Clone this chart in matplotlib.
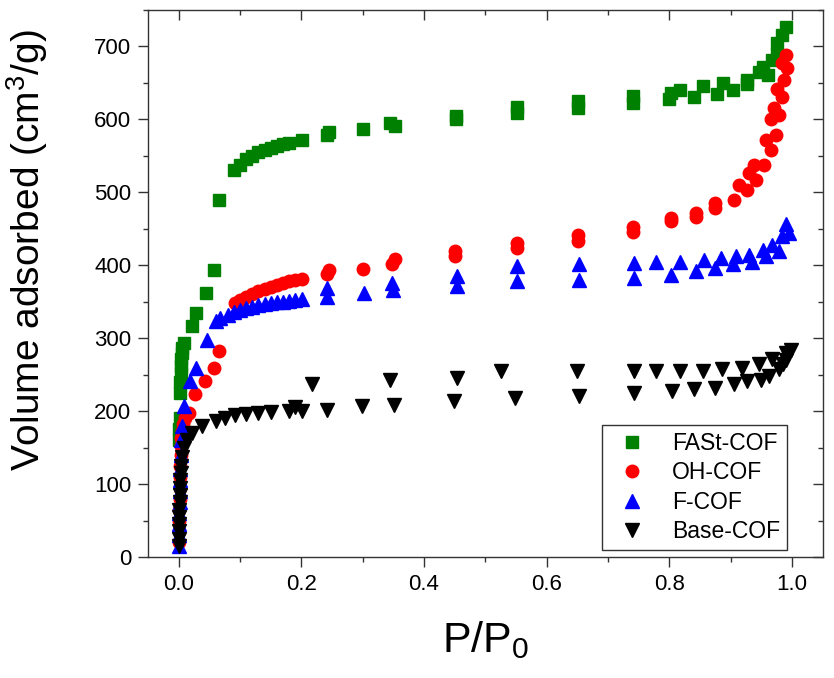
import matplotlib
matplotlib.use("Agg")
import matplotlib.pyplot as plt
from matplotlib.ticker import MultipleLocator

plt.rcParams['font.family'] = ['Liberation Sans', 'DejaVu Sans']
plt.rcParams['mathtext.fontset'] = 'custom'
plt.rcParams['mathtext.rm'] = 'Liberation Sans'

# FASt-COF (green squares)
fast_p = [0.0005, 0.001, 0.0015, 0.002, 0.0025, 0.003, 0.0035, 0.004, 0.005, 0.006, 0.008,
          0.021, 0.029, 0.045, 0.057, 0.066, 0.09, 0.10, 0.11, 0.12, 0.13, 0.14, 0.15, 0.16,
          0.17, 0.18, 0.201, 0.242, 0.245, 0.301, 0.345, 0.352, 0.452, 0.452, 0.552, 0.552,
          0.651, 0.651, 0.74, 0.74, 0.80, 0.802, 0.818, 0.84, 0.854, 0.878, 0.887, 0.903,
          0.927, 0.927, 0.946, 0.952, 0.96, 0.968, 0.975, 0.976, 0.984, 0.99]
fast_v = [160, 175, 190, 225, 240, 252, 262, 272, 280, 287, 293,
          317, 335, 362, 393, 490, 530, 537, 545, 550, 555, 558, 561, 564,
          566, 568, 572, 578, 583, 587, 595, 591, 600, 604, 608, 617,
          615, 625, 622, 632, 628, 636, 640, 630, 645, 635, 650, 640,
          654, 648, 665, 672, 660, 681, 690, 704, 715, 727]

# OH-COF (red circles)
oh_p = [0.0, 0.0003, 0.0006, 0.001, 0.0013, 0.0016, 0.002, 0.0025, 0.003, 0.0035, 0.004,
        0.005, 0.007, 0.01, 0.016, 0.027, 0.043, 0.058, 0.065, 0.092, 0.10, 0.11, 0.12,
        0.13, 0.14, 0.15, 0.16, 0.17, 0.18, 0.19, 0.201, 0.242, 0.245, 0.30, 0.348, 0.352,
        0.451, 0.451, 0.552, 0.552, 0.651, 0.651, 0.741, 0.741, 0.802, 0.802, 0.843, 0.843,
        0.875, 0.875, 0.905, 0.914, 0.927, 0.93, 0.941, 0.938, 0.954, 0.957, 0.965, 0.973,
        0.965, 0.979, 0.971, 0.976, 0.984, 0.987, 0.984, 0.99, 0.992]
oh_v = [20, 35, 50, 65, 80, 95, 110, 125, 140, 152, 163,
        172, 182, 190, 198, 223, 241, 259, 282, 348, 352, 357, 361,
        364, 367, 370, 373, 375, 378, 380, 381, 388, 394, 395, 401, 408,
        413, 420, 423, 431, 433, 441, 445, 452, 460, 465, 466, 471,
        478, 485, 490, 510, 503, 526, 517, 537, 537, 571, 558, 578,
        601, 606, 615, 642, 631, 654, 677, 688, 670]

# F-COF (blue triangles)
f_p = [0.0, 0.0003, 0.0006, 0.001, 0.0013, 0.0016, 0.002, 0.0025, 0.003, 0.004, 0.005, 0.008,
       0.019, 0.028, 0.046, 0.06, 0.068, 0.08, 0.09, 0.10, 0.11, 0.12, 0.13, 0.14, 0.15,
       0.16, 0.17, 0.18, 0.19, 0.201, 0.242, 0.242, 0.302, 0.348, 0.35, 0.454, 0.454,
       0.552, 0.552, 0.653, 0.653, 0.742, 0.742, 0.778, 0.802, 0.818, 0.843, 0.856, 0.875,
       0.884, 0.903, 0.908, 0.93, 0.935, 0.952, 0.957, 0.968, 0.979, 0.984, 0.99, 0.995]
f_v = [15, 30, 45, 60, 75, 90, 105, 120, 140, 160, 180, 207,
       241, 259, 298, 323, 328, 332, 336, 339, 341, 343, 345, 347, 348,
       349, 350, 351, 352, 353, 357, 369, 362, 376, 366, 371, 385,
       378, 399, 380, 401, 382, 403, 405, 387, 405, 392, 407, 396,
       410, 401, 412, 414, 405, 421, 412, 428, 419, 440, 457, 444]

# Base-COF (black down triangles)
base_p = [0.0, 0.0002, 0.0004, 0.0006, 0.0008, 0.001, 0.0013, 0.0016, 0.002, 0.0025, 0.003,
          0.004, 0.005, 0.008, 0.013, 0.022, 0.038, 0.06, 0.075, 0.092, 0.11, 0.13, 0.15,
          0.18, 0.19, 0.201, 0.217, 0.242, 0.299, 0.345, 0.351, 0.449, 0.454, 0.525, 0.549,
          0.65, 0.653, 0.742, 0.742, 0.778, 0.805, 0.818, 0.84, 0.854, 0.875, 0.886, 0.905,
          0.919, 0.927, 0.946, 0.949, 0.962, 0.968, 0.979, 0.985, 0.99, 0.99, 0.998]
base_v = [15, 25, 35, 45, 55, 65, 75, 85, 95, 105, 115,
          125, 137, 150, 160, 170, 180, 187, 190, 194, 196, 198, 199,
          200, 205, 200, 237, 202, 207, 243, 209, 214, 246, 255, 218,
          255, 221, 225, 255, 255, 228, 255, 230, 255, 232, 257, 237,
          259, 241, 264, 243, 248, 271, 257, 265, 270, 280, 284]

fig = plt.figure(figsize=(8.34, 6.78), dpi=100)
ax = fig.add_axes([0.1775, 0.1785, 0.809, 0.807])

ax.plot(fast_p, fast_v, 's', ls='none', color='#008000', ms=8, label='FASt-COF')
ax.plot(oh_p, oh_v, 'o', ls='none', color='#ff0000', ms=9, label='OH-COF')
ax.plot(f_p, f_v, '^', ls='none', color='#0000ff', ms=9.5, label='F-COF')
ax.plot(base_p, base_v, 'v', ls='none', color='black', ms=9.5, label='Base-COF')

ax.set_xlim(-0.05, 1.05)
ax.set_ylim(0, 750)
ax.xaxis.set_major_locator(MultipleLocator(0.2))
ax.xaxis.set_minor_locator(MultipleLocator(0.1))
ax.yaxis.set_major_locator(MultipleLocator(100))
ax.yaxis.set_minor_locator(MultipleLocator(50))

for s in ax.spines.values():
    s.set_linewidth(1.0)
    s.set_color('#333333')

ax.tick_params(which='both', direction='out', labelsize=16, color='#333333')
ax.tick_params(which='major', length=7, width=1.0, pad=5)
ax.tick_params(which='minor', length=3.5, width=1.0)

# top and right axes: ticks pointing inwards, no labels
top = ax.secondary_xaxis('top')
top.xaxis.set_major_locator(MultipleLocator(0.2))
top.xaxis.set_minor_locator(MultipleLocator(0.1))
top.tick_params(which='both', direction='in', labeltop=False, color='#333333')
top.tick_params(which='major', length=7, width=1.0)
top.tick_params(which='minor', length=3.5, width=1.0)
top.spines['top'].set_visible(False)

right = ax.secondary_yaxis('right')
right.yaxis.set_major_locator(MultipleLocator(100))
right.yaxis.set_minor_locator(MultipleLocator(50))
right.tick_params(which='both', direction='in', labelright=False, color='#333333')
right.tick_params(which='major', length=7, width=1.0)
right.tick_params(which='minor', length=3.5, width=1.0)
right.spines['right'].set_visible(False)

ax.set_xlabel(r'P/P$_\mathregular{0}$', fontsize=31, labelpad=18)
ax.set_ylabel(r'Volume adsorbed (cm$^\mathregular{3}$/g)', fontsize=28)
ax.yaxis.set_label_coords(-0.145, 0.56)

leg = ax.legend(loc='lower right', bbox_to_anchor=(0.947, 0.013), borderaxespad=0,
                fontsize=16.5, fancybox=False, edgecolor='#333333', framealpha=1,
                handlelength=2.0, handletextpad=0.75, labelspacing=0.28, borderpad=0.3)
leg.get_frame().set_linewidth(1.0)

plt.savefig("out.png", dpi=100)
